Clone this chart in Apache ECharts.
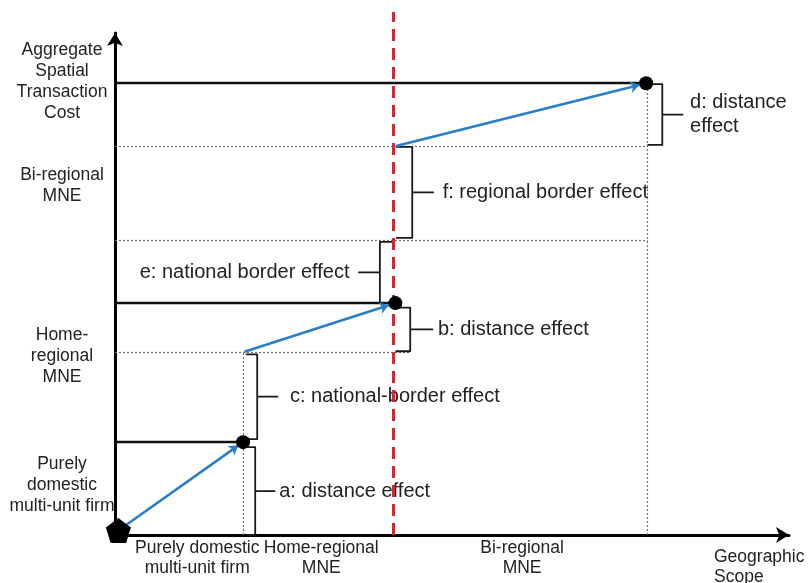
<!DOCTYPE html>
<html><head><meta charset="utf-8">
<script src="https://cdn.jsdelivr.net/npm/echarts@6/dist/echarts.min.js"></script>
<style>html,body{margin:0;padding:0;background:#fff}#c{width:810px;height:583px}</style>
</head><body><div id="c"></div>
<script>
// ---- data (abstract 0..100 scales) ----
const scopeLabels = ['Purely domestic\nmulti-unit firm', 'Home-regional\nMNE', 'Bi-regional\nMNE'];
const scopeLabelPos = [12.2, 30.6, 60.4];
const costLabels = ['Purely\ndomestic\nmulti-unit firm', 'Home-\nregional\nMNE', 'Bi-regional\nMNE', 'Aggregate\nSpatial\nTransaction\nCost'];
const costLabelPos = [10.0, 35.7, 69.6, 90.4];
const scopeTitle = 'Geographic\nScope';

const originPoint = [0.5, 0.9];
const firmScope = [19.0, 41.6, 78.8];
const firmCost = [18.5, 46.2, 90.0];
const pathStartScope = [0.5, 19.2, 41.7];
const pathStartCost = [0.9, 36.5, 77.5];

const guideCost = [36.5, 58.8, 77.5];
const guideCostEnd = [43.8, 79.0, 79.0];
const guideScope = [19.0, 79.0];
const guideScopeTop = [36.5, 90.0];

const regionBorder = 41.3;
const regionBorderTop = 104.2;

const effectNames = ['a: distance effect', 'c: national-border effect', 'b: distance effect',
  'e: national border effect', 'f: regional border effect', 'd: distance\neffect'];
const effectLow = [0, 19.1, 36.6, 46.2, 59.2, 77.7];
const effectHigh = [17.5, 36.0, 45.3, 58.4, 77.3, 89.8];
const effectAt = [20.8, 21.1, 43.8, 39.3, 44.1, 81.2];
const effectFrom = [19.6, 19.4, 41.6, 41.2, 41.7, 79.0];
const effectTick = [2.9, 3.0, 3.3, -3.1, 3.1, 3.0];

// ---- style ----
const FONT = 'Liberation Sans, Arial, Helvetica, sans-serif';
const labelGap = [4, 12, 5, 9, 9, 7];

const chart = echarts.init(document.getElementById('c'));
const base = {
  animation: false,
  backgroundColor: '#fff',
  grid: { left: 115, right: 21, top: 33, bottom: 48, containLabel: false, outerBoundsMode: 'none' },
  xAxis: {
    type: 'value', min: 0, max: 100,
    axisLine: { show: true, symbol: ['none', 'arrow'], symbolSize: [12, 13], lineStyle: { color: '#000', width: 3 } },
    axisTick: { show: false }, splitLine: { show: false },
    axisLabel: {
      customValues: scopeLabelPos, margin: 3, fontSize: 17.5, lineHeight: 20, color: '#222', fontFamily: FONT,
      formatter: v => scopeLabels[scopeLabelPos.indexOf(v)] || ''
    },
    name: scopeTitle, nameLocation: 'end', nameGap: -75,
    nameTextStyle: { align: 'left', verticalAlign: 'top', fontSize: 17.5, lineHeight: 20, color: '#222', fontFamily: FONT, padding: [12, 0, 0, 0] }
  },
  yAxis: {
    type: 'value', min: 0, max: 100,
    axisLine: { show: true, symbol: ['none', 'arrow'], symbolSize: [12, 13], lineStyle: { color: '#000', width: 3 } },
    axisTick: { show: false }, splitLine: { show: false },
    axisLabel: {
      customValues: costLabelPos, margin: 53, align: 'center', fontSize: 17.5, lineHeight: 21, color: '#222', fontFamily: FONT,
      formatter: v => costLabels[costLabelPos.indexOf(v)] || ''
    }
  },
  series: []
};
chart.setOption(base);

function shorten(s, e, px) {
  const ps = chart.convertToPixel({ gridIndex: 0 }, s);
  const pe = chart.convertToPixel({ gridIndex: 0 }, e);
  const dx = pe[0] - ps[0], dy = pe[1] - ps[1], L = Math.hypot(dx, dy);
  return chart.convertFromPixel({ gridIndex: 0 }, [pe[0] - dx / L * px, pe[1] - dy / L * px]);
}

const dottedData = [];
guideCost.forEach((c, i) => dottedData.push({ coords: [[0, c], [guideCostEnd[i], c]] }));
guideScope.forEach((s, i) => dottedData.push({ coords: [[s, 0], [s, guideScopeTop[i]]] }));

const solidData = firmScope.map((s, i) => ({ coords: [[0, firmCost[i]], [s, firmCost[i]]] }));

const arrowData = firmScope.map((s, i) => {
  const st = [pathStartScope[i], pathStartCost[i]];
  return { coords: [st, shorten(st, [s, firmCost[i]], i === 0 ? 6 : 7)] };
});

const bracketData = effectNames.map((n, i) => {
  const mid = (effectLow[i] + effectHigh[i]) / 2, x = effectAt[i];
  return { coords: [[effectFrom[i], effectHigh[i]], [x, effectHigh[i]], [x, mid], [x + effectTick[i], mid], [x, mid], [x, effectLow[i]], [effectFrom[i], effectLow[i]]] };
});

const labelData = effectNames.map((n, i) => ({
  value: [effectAt[i] + effectTick[i], (effectLow[i] + effectHigh[i]) / 2],
  name: n,
  label: { position: effectTick[i] < 0 ? 'left' : 'right', distance: labelGap[i] }
}));

chart.setOption({
  series: [
    { type: 'lines', coordinateSystem: 'cartesian2d', silent: true, z: 1,
      lineStyle: { color: '#6f6f6f', width: 1.2, type: [2, 2], opacity: 1 }, data: dottedData },
    { type: 'lines', coordinateSystem: 'cartesian2d', silent: true, z: 2,
      lineStyle: { color: '#111', width: 2.3, opacity: 1 }, data: solidData },
    { type: 'scatter', silent: true, z: 3, symbolSize: 1, itemStyle: { color: 'transparent', opacity: 1 },
      label: { show: true, formatter: p => p.name, fontSize: 20, lineHeight: 24, color: '#222', fontFamily: FONT },
      data: labelData },
    { type: 'lines', coordinateSystem: 'cartesian2d', polyline: true, silent: true, z: 4,
      lineStyle: { color: '#1a1a1a', width: 1.8, opacity: 1, join: 'round' }, data: bracketData },
    { type: 'lines', coordinateSystem: 'cartesian2d', silent: true, z: 5, clip: false,
      lineStyle: { color: '#e3202b', width: 3, type: [12, 7], opacity: 1 },
      data: [{ coords: [[regionBorder, 0], [regionBorder, regionBorderTop]] }] },
    { type: 'lines', coordinateSystem: 'cartesian2d', silent: true, z: 6,
      symbol: ['none', 'arrow'], symbolSize: 9,
      lineStyle: { color: '#2a7dc9', width: 2.6, opacity: 1 }, data: arrowData },
    { type: 'scatter', silent: true, z: 7, symbolSize: 14, itemStyle: { color: '#000', opacity: 1 },
      data: firmScope.map((s, i) => [s, firmCost[i]]) },
    { type: 'scatter', silent: true, z: 8, clip: false, symbol: 'path://M50,0 L100,38 L81,100 L19,100 L0,38 Z',
      symbolSize: 25, itemStyle: { color: '#000', opacity: 1 }, data: [originPoint] }
  ]
});
</script></body></html>
